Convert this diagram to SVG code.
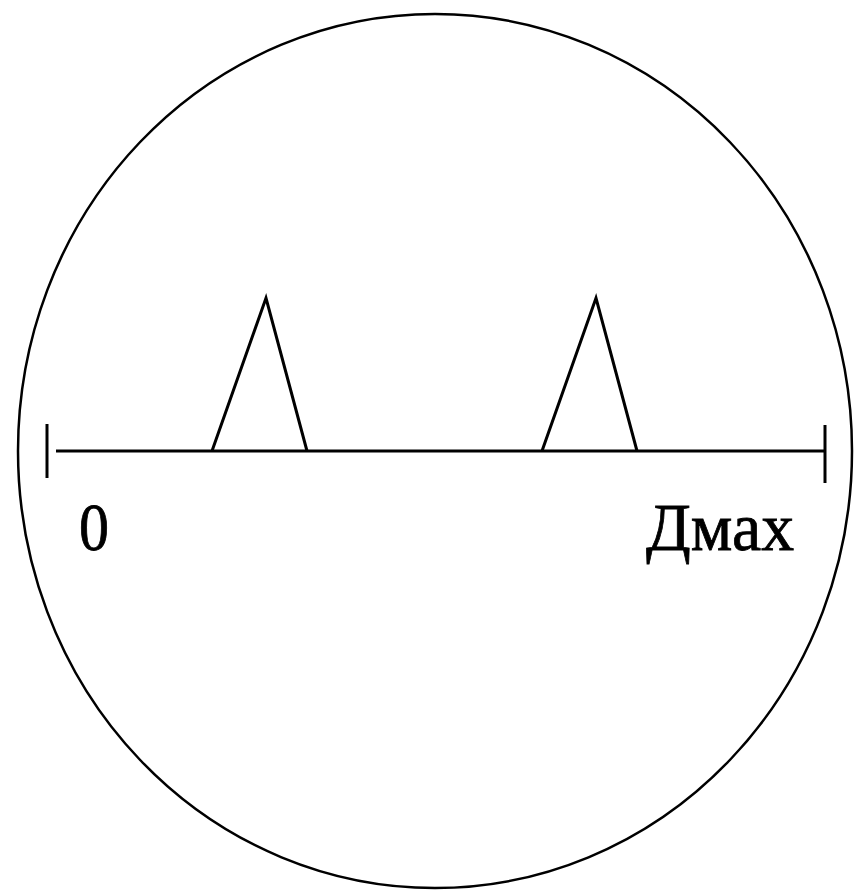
<svg xmlns="http://www.w3.org/2000/svg" width="856" height="893" viewBox="0 0 856 893">
<style>
.ln{fill:none;stroke:#000;stroke-width:3;stroke-linecap:butt;stroke-linejoin:miter}
.lbl{font-family:"Liberation Serif","DejaVu Serif",serif;font-size:67px;fill:#000;stroke:#000;stroke-width:0.8}
</style>
<rect width="856" height="893" fill="#fff"/>
<g id="dial">
<ellipse cx="435" cy="451" rx="417" ry="437" fill="none" stroke="#000" stroke-width="2.5"/>
</g>
<g id="scale">
<line class="ln" x1="56" y1="451" x2="825" y2="451"/>
<line class="ln" x1="47" y1="424" x2="47" y2="478"/>
<line class="ln" x1="825" y1="425" x2="825" y2="483"/>
</g>
<g id="peaks">
<polyline class="ln" points="212,451 266,298 307,451"/>
<polyline class="ln" points="542,451 596,298 637,451"/>
</g>
<g id="labels">
<text class="lbl" x="79" y="550" textLength="30" lengthAdjust="spacingAndGlyphs">0</text>
<text class="lbl" x="646" y="550" textLength="148" lengthAdjust="spacingAndGlyphs">Дмах</text>
</g>
</svg>
